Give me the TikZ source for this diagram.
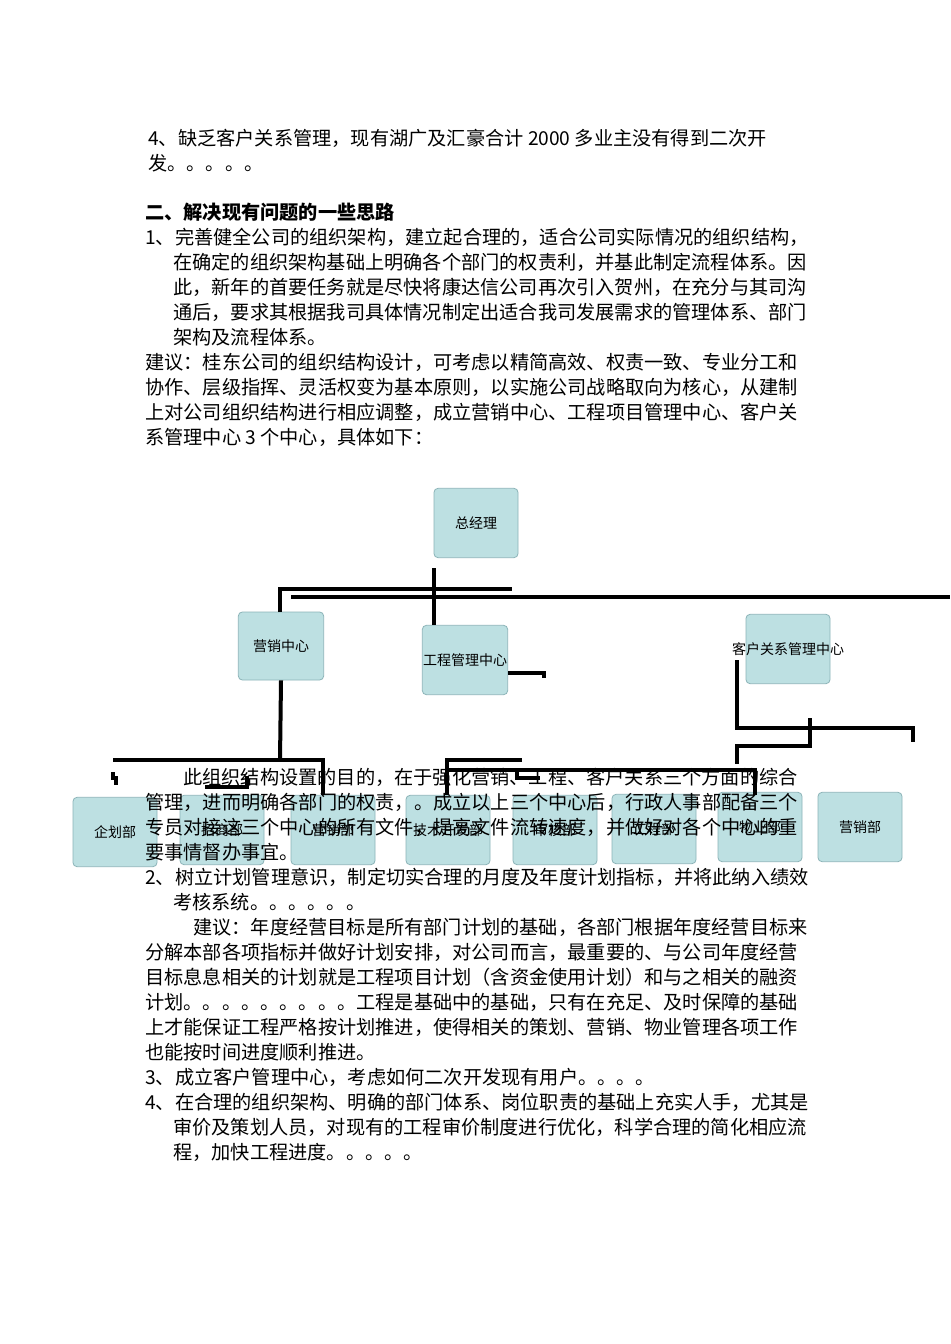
\documentclass[tikz,border=0pt]{standalone}
\usepackage{fontspec}
\setmainfont{Liberation Serif}
\newfontfamily\cjk{Noto Sans CJK SC}
\definecolor{boxfill}{RGB}{189,224,226}
\definecolor{boxline}{RGB}{140,180,184}
\begin{document}
\begin{tikzpicture}[x=0.75pt,y=-0.75pt,
  txt/.style={anchor=west,inner sep=0pt,font=\cjk\fontsize{14.4}{18}\selectfont},
  box/.style={draw=boxline,fill=boxfill,rounded corners=3pt,line width=0.6pt,inner sep=0pt,font=\cjk\fontsize{10.5}{12}\selectfont},
  ln/.style={line width=3pt}]
\useasboundingbox (0,0) rectangle (950,1344);
\fill[white] (0,0) rectangle (950,1344);
% upper text
\node[txt] (t1) at (148,138) {4、缺乏客户关系管理，现有湖广及汇豪合计 2000 多业主没有得到二次开};
\node[txt] (t2) at (148,163) {发。。。。。};
\node[txt,font=\cjk\bfseries\fontsize{14.4}{18}\selectfont] (t3) at (145,212) {二、解决现有问题的一些思路};
\node[txt] (t4) at (145,237) {1、完善健全公司的组织架构，建立起合理的，适合公司实际情况的组织结构，};
\node[txt] (t5) at (173,262) {在确定的组织架构基础上明确各个部门的权责利，并基此制定流程体系。因};
\node[txt] (t6) at (173,287) {此，新年的首要任务就是尽快将康达信公司再次引入贺州，在充分与其司沟};
\node[txt] (t7) at (173,312) {通后，要求其根据我司具体情况制定出适合我司发展需求的管理体系、部门};
\node[txt] (t8) at (173,337) {架构及流程体系。};
\node[txt] (t9) at (145,362) {建议：桂东公司的组织结构设计，可考虑以精简高效、权责一致、专业分工和};
\node[txt] (t10) at (145,387) {协作、层级指挥、灵活权变为基本原则，以实施公司战略取向为核心，从建制};
\node[txt] (t11) at (145,412) {上对公司组织结构进行相应调整，成立营销中心、工程项目管理中心、客户关};
\node[txt] (t12) at (145,437) {系管理中心 3 个中心，具体如下：};
% boxes
\node[box,minimum width=63pt,minimum height=52pt] (gm) at (476,523) {总经理};
\node[box,minimum width=64pt,minimum height=51pt] (yx) at (281,646) {营销中心};
\node[box,minimum width=64pt,minimum height=52pt] (gc) at (465,660) {工程管理中心};
\node[box,minimum width=63pt,minimum height=52pt] (kh) at (788,649) {};
\node[font=\cjk\fontsize{10.5}{12}\selectfont,inner sep=0pt] (khl) at (788,649) {客户关系管理中心};
\node[box,minimum width=63pt,minimum height=52pt] (b1) at (115,832) {企划部};
\node[box,minimum width=63pt,minimum height=52pt] (b2) at (222,830) {招商部};
\node[box,minimum width=63pt,minimum height=52pt] (b3) at (333,830) {营销部};
\node[box,minimum width=63pt,minimum height=52pt] (b4) at (448,830) {技术开发部};
\node[box,minimum width=63pt,minimum height=52pt] (b5) at (555,830) {审核部};
\node[box,minimum width=63pt,minimum height=52pt] (b6) at (654,829) {工程部};
\node[box,minimum width=63pt,minimum height=52pt] (b7) at (760,827) {物业部};
\node[box,minimum width=63pt,minimum height=52pt] (b8) at (860,827) {营销部};
% connectors
\draw[ln] (434,568) -- (434,625);
\draw[ln] (280,612) -- (280,589) -- (512,589);
\draw[ln] (291,597) -- (950,597);
\draw[ln] (gc.east |- 0,673) -- (544,673) -- (544,678);
\draw[ln] (yx.south) -- (280,760);
\draw[ln] (113,760) -- (323,760) -- (323,795);
\draw[ln] (113,772) -- (113,778) -- (116,778) -- (116,785);
\draw[ln] (205,787) -- (247,787) -- (247,776);
\draw[ln] (522,760) -- (447,760) -- (447,795);
\draw[ln] (447,770) -- (755,770) -- (755,795);
\draw[ln] (517,770) -- (517,778) -- (540,778);
\draw[ln] (737,660) -- (737,728) -- (913,728) -- (913,742);
\draw[ln] (810,718) -- (810,746) -- (737,746) -- (737,764);
% lower text
\node[txt] (u1) at (183,777) {此组织结构设置的目的，在于强化营销、工程、客户关系三个方面的综合};
\node[txt] (u2) at (145,802) {管理，进而明确各部门的权责，。成立以上三个中心后，行政人事部配备三个};
\node[txt] (u3) at (145,827) {专员对接这三个中心的所有文件，提高文件流转速度，并做好对各个中心的重};
\node[txt] (u4) at (145,852) {要事情督办事宜。};
\node[txt] (u5) at (145,877) {2、树立计划管理意识，制定切实合理的月度及年度计划指标，并将此纳入绩效};
\node[txt] (u6) at (173,902) {考核系统。。。。。。};
\node[txt] (u7) at (193,927) {建议：年度经营目标是所有部门计划的基础，各部门根据年度经营目标来};
\node[txt] (u8) at (145,952) {分解本部各项指标并做好计划安排，对公司而言，最重要的、与公司年度经营};
\node[txt] (u9) at (145,977) {目标息息相关的计划就是工程项目计划（含资金使用计划）和与之相关的融资};
\node[txt] (u10) at (145,1002) {计划。。。。。。。。。工程是基础中的基础，只有在充足、及时保障的基础};
\node[txt] (u11) at (145,1027) {上才能保证工程严格按计划推进，使得相关的策划、营销、物业管理各项工作};
\node[txt] (u12) at (145,1052) {也能按时间进度顺利推进。};
\node[txt] (u13) at (145,1077) {3、成立客户管理中心，考虑如何二次开发现有用户。。。。};
\node[txt] (u14) at (145,1102) {4、在合理的组织架构、明确的部门体系、岗位职责的基础上充实人手，尤其是};
\node[txt] (u15) at (173,1127) {审价及策划人员，对现有的工程审价制度进行优化，科学合理的简化相应流};
\node[txt] (u16) at (173,1152) {程，加快工程进度。。。。。};
\end{tikzpicture}
\end{document}
